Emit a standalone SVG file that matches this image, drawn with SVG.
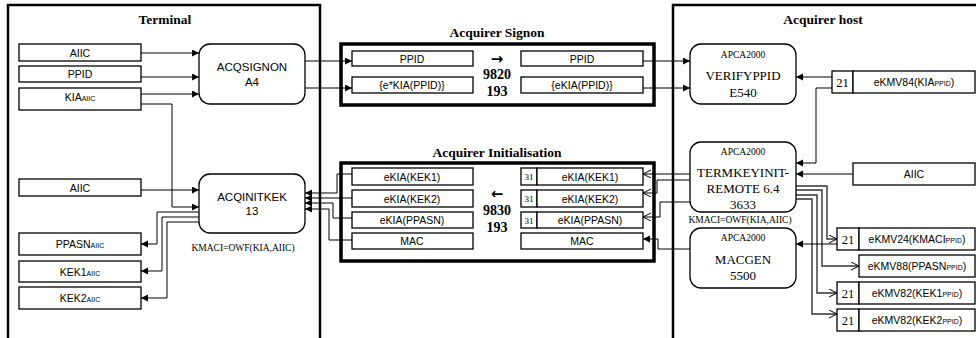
<svg xmlns="http://www.w3.org/2000/svg" width="976" height="338" viewBox="0 0 976 338">
<defs>
<marker id="af" markerUnits="userSpaceOnUse" markerWidth="8" markerHeight="8" refX="7" refY="3.5" orient="auto"><path d="M0,0 L7,3.5 L0,7 z" fill="#000"/></marker>
<marker id="ao" markerUnits="userSpaceOnUse" markerWidth="9" markerHeight="9" refX="8" refY="4" orient="auto"><path d="M0,0 L8,4 L0,8" fill="none" stroke="#000" stroke-width="1"/></marker>
</defs>
<style>
.panel{fill:none;stroke:#000;stroke-width:2.5}
.grp{fill:none;stroke:#000;stroke-width:3.5}
.box{fill:#fff;stroke:#000;stroke-width:1.3}
.rbox{fill:#fff;stroke:#000;stroke-width:1.3}
.s{font-family:"Liberation Sans",Arial,sans-serif;font-size:10.5px;text-anchor:middle}
.s2{font-family:"Liberation Sans",Arial,sans-serif;font-size:11.5px;text-anchor:middle}
.sub{font-size:7px}
.t{font-family:"Liberation Serif","Times New Roman",serif;font-weight:bold;font-size:13.5px;text-anchor:middle}
.n{font-family:"Liberation Serif","Times New Roman",serif;font-weight:bold;font-size:14px;text-anchor:middle}
.ar{font-family:"DejaVu Sans",sans-serif;font-weight:bold;font-size:15px;text-anchor:middle}
.r{font-family:"Liberation Serif","Times New Roman",serif;font-size:13px;text-anchor:middle}
.rs{font-family:"Liberation Serif","Times New Roman",serif;font-size:9.5px;text-anchor:middle}
.num{font-family:"Liberation Serif","Times New Roman",serif;font-size:12.5px;text-anchor:middle}
.num3{font-family:"Liberation Serif","Times New Roman",serif;font-size:9px;text-anchor:middle}
.c{fill:none;stroke:#000;stroke-width:1}
.cg{fill:none;stroke:#333;stroke-width:1.4}
</style>
<rect width="976" height="338" fill="#fff"/>

<g id="terminal-panel">
<rect class="panel" x="8" y="5" width="312" height="345"/>
<text class="t" x="165" y="24">Terminal</text>
</g>
<g id="host-panel">
<rect class="panel" x="673" y="5" width="320" height="345"/>
<text class="t" x="823" y="24">Acquirer host</text>
</g>

<g id="connectors">
<path class="c" d="M141,53 H199" marker-end="url(#af)"/>
<path class="c" d="M141,77 H199" marker-end="url(#af)"/>
<path class="c" d="M141,94 H199" marker-end="url(#af)"/>
<path class="c" d="M141,104 H172 V207 H199" marker-end="url(#af)"/>
<path class="c" d="M141,190 H199" marker-end="url(#af)"/>
<path class="c" d="M199,212 H157 V244 H141" marker-end="url(#af)"/>
<path class="c" d="M199,217 H162 V271 H141" marker-end="url(#af)"/>
<path class="c" d="M199,222 H167 V298 H141" marker-end="url(#af)"/>

<path class="c" d="M305,61 H352" marker-end="url(#af)"/>
<path class="c" d="M305,88 H352" marker-end="url(#af)"/>
<path class="c" d="M643,61 H690" marker-end="url(#af)"/>
<path class="c" d="M643,88 H690" marker-end="url(#af)"/>

<path class="c" d="M352,174 H337 V193 H305" marker-end="url(#af)"/>
<path class="c" d="M352,198 H305" marker-end="url(#af)"/>
<path class="c" d="M352,218 H333 V203 H305" marker-end="url(#af)"/>
<path class="c" d="M352,240 H329 V209 H305" marker-end="url(#af)"/>

<path class="c" d="M690,174 H643" marker-end="url(#ao)"/>
<path class="c" d="M690,180 H657 V193 H643" marker-end="url(#ao)"/>
<path class="c" d="M690,202 H660 V217 H643" marker-end="url(#ao)"/>
<path class="c" d="M690,249 H658 V239 H643" marker-end="url(#af)"/>

<path class="c" d="M832,77 H796" marker-end="url(#af)"/>
<path class="c" d="M832,88 H816 V163 H796" marker-end="url(#af)"/>
<path class="c" d="M853,174 H796" marker-end="url(#af)"/>
<path class="cg" d="M796,186 H827 V239 H837" marker-end="url(#ao)"/>
<path class="cg" d="M796,190 H822 V266 H859" marker-end="url(#ao)"/>
<path class="cg" d="M796,195 H817 V293 H837" marker-end="url(#ao)"/>
<path class="cg" d="M796,199 H812 V314 H837" marker-end="url(#ao)"/>
<path class="c" d="M837,244 H796" marker-end="url(#af)"/>
</g>

<g id="t-aiic1"><rect class="box" x="19" y="44" width="122" height="17"/><text class="s" x="80" y="56.5">AIIC</text></g>
<g id="t-ppid"><rect class="box" x="19" y="66" width="122" height="16"/><text class="s" x="80" y="78">PPID</text></g>
<g id="t-kia"><rect class="box" x="19" y="88" width="122" height="22"/><text class="s" x="80" y="101">KIA<tspan class="sub">AIIC</tspan></text></g>
<g id="acqsignon"><rect class="rbox" x="199" y="44" width="106" height="60" rx="11"/><text class="s2" x="252" y="71">ACQSIGNON</text><text class="s2" x="252" y="86">A4</text></g>
<g id="t-aiic2"><rect class="box" x="19" y="179" width="122" height="17"/><text class="s" x="80" y="191.5">AIIC</text></g>
<g id="acqinitkek"><rect class="rbox" x="199" y="174" width="106" height="59" rx="11"/><text class="s2" x="252" y="201">ACQINITKEK</text><text class="s2" x="252" y="215">13</text></g>
<g id="kmaci-label1"><text class="rs" x="243" y="251">KMACI=OWF(KIA,AIIC)</text></g>
<g id="t-ppasn"><rect class="box" x="19" y="233" width="122" height="22"/><text class="s" x="80" y="248">PPASN<tspan class="sub">AIIC</tspan></text></g>
<g id="t-kek1"><rect class="box" x="19" y="261" width="122" height="21"/><text class="s" x="80" y="275.5">KEK1<tspan class="sub">AIIC</tspan></text></g>
<g id="t-kek2"><rect class="box" x="19" y="287" width="122" height="22"/><text class="s" x="80" y="302">KEK2<tspan class="sub">AIIC</tspan></text></g>

<g id="acquirer-signon">
<text class="t" x="497" y="37">Acquirer Signon</text>
<rect class="grp" x="341" y="44" width="313" height="61"/>
<rect class="box" x="352" y="51" width="121" height="15"/><text class="s" x="412" y="62.5">PPID</text>
<rect class="box" x="352" y="77" width="121" height="16"/><text class="s" x="412" y="89">{e*KIA(PPID)}</text>
<rect class="box" x="521" y="51" width="122" height="15"/><text class="s" x="582" y="62.5">PPID</text>
<rect class="box" x="521" y="77" width="122" height="16"/><text class="s" x="582" y="89">{eKIA(PPID)}</text>
<text class="ar" x="497" y="64">→</text>
<text class="n" x="497" y="79">9820</text>
<text class="n" x="497" y="96">193</text>
</g>

<g id="acquirer-init">
<text class="t" x="497" y="157">Acquirer Initialisation</text>
<rect class="grp" x="341" y="163" width="313" height="98"/>
<rect class="box" x="352" y="168" width="121" height="17"/><text class="s" x="412" y="180.5">eKIA(KEK1)</text>
<rect class="box" x="352" y="190" width="121" height="17"/><text class="s" x="412" y="202.5">eKIA(KEK2)</text>
<rect class="box" x="352" y="212" width="121" height="16"/><text class="s" x="412" y="224">eKIA(PPASN)</text>
<rect class="box" x="352" y="233" width="121" height="16"/><text class="s" x="412" y="245">MAC</text>
<rect class="box" x="521" y="168" width="16" height="17"/><text class="num3" x="529" y="180">31</text>
<rect class="box" x="537" y="168" width="106" height="17"/><text class="s" x="590" y="180.5">eKIA(KEK1)</text>
<rect class="box" x="521" y="190" width="16" height="17"/><text class="num3" x="529" y="202">31</text>
<rect class="box" x="537" y="190" width="106" height="17"/><text class="s" x="590" y="202.5">eKIA(KEK2)</text>
<rect class="box" x="521" y="212" width="16" height="16"/><text class="num3" x="529" y="223.5">31</text>
<rect class="box" x="537" y="212" width="106" height="16"/><text class="s" x="590" y="224">eKIA(PPASN)</text>
<rect class="box" x="521" y="233" width="122" height="16"/><text class="s" x="582" y="245">MAC</text>
<text class="ar" x="497" y="199">←</text>
<text class="n" x="497" y="215">9830</text>
<text class="n" x="497" y="232">193</text>
</g>

<g id="verifyppid"><rect class="rbox" x="690" y="44" width="106" height="60" rx="11"/><text class="rs" x="743" y="58">APCA2000</text><text class="r" x="743" y="80">VERIFYPPID</text><text class="r" x="743" y="97">E540</text></g>
<g id="ekmv84"><rect class="box" x="832" y="71" width="21" height="22"/><text class="num" x="842.5" y="86.5">21</text><rect class="box" x="853" y="71" width="122" height="22"/><text class="s" x="914" y="85.5">eKMV84(KIA<tspan class="sub">PPID</tspan>)</text></g>
<g id="termkeyinit"><rect class="rbox" x="690" y="142" width="106" height="70" rx="11"/><text class="rs" x="743" y="155">APCA2000</text><text class="r" x="743" y="177">TERMKEYINIT-</text><text class="r" x="743" y="193">REMOTE 6.4</text><text class="r" x="743" y="209">3633</text></g>
<g id="h-aiic"><rect class="box" x="853" y="163" width="122" height="22"/><text class="s" x="914" y="177.5">AIIC</text></g>
<g id="kmaci-label2"><text class="rs" x="740" y="223">KMACI=OWF(KIA,AIIC)</text></g>
<g id="macgen"><rect class="rbox" x="690" y="228" width="106" height="60" rx="11"/><text class="rs" x="743" y="241">APCA2000</text><text class="r" x="743" y="264">MACGEN</text><text class="r" x="743" y="280">5500</text></g>
<g id="ekmv24"><rect class="box" x="837" y="228" width="22" height="22"/><text class="num" x="848" y="243.5">21</text><rect class="box" x="859" y="228" width="116" height="22"/><text class="s" x="917" y="242.5">eKMV24(KMACI<tspan class="sub">PPID</tspan>)</text></g>
<g id="ekmv88"><rect class="box" x="859" y="255" width="116" height="22"/><text class="s" x="917" y="269.5">eKMV88(PPASN<tspan class="sub">PPID</tspan>)</text></g>
<g id="ekmv82-1"><rect class="box" x="837" y="282" width="22" height="22"/><text class="num" x="848" y="297.5">21</text><rect class="box" x="859" y="282" width="116" height="22"/><text class="s" x="917" y="296.5">eKMV82(KEK1<tspan class="sub">PPID</tspan>)</text></g>
<g id="ekmv82-2"><rect class="box" x="837" y="309" width="22" height="22"/><text class="num" x="848" y="324.5">21</text><rect class="box" x="859" y="309" width="116" height="22"/><text class="s" x="917" y="323.5">eKMV82(KEK2<tspan class="sub">PPID</tspan>)</text></g>
</svg>
